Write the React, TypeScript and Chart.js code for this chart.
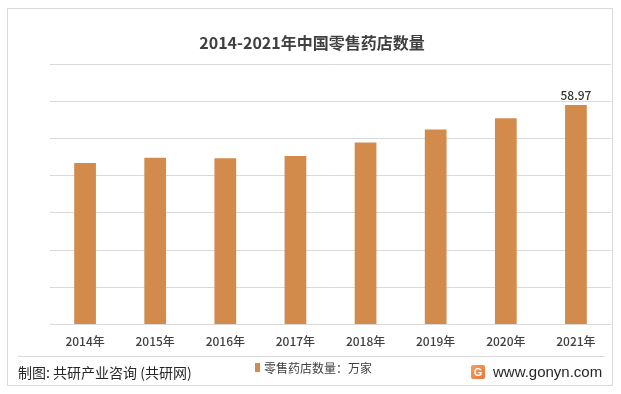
import React, { useEffect, useRef } from "react";
import { Chart, registerables } from "chart.js";

Chart.register(...registerables);

const categories = ["2014年", "2015年", "2016年", "2017年", "2018年", "2019年", "2020年", "2021年"];
const storeCounts = [43.4, 44.8, 44.7, 45.3, 48.9, 52.4, 55.4, 58.97];
const labeledIndexes = [7];
const seriesName = "零售药店数量：万家";
const titleText = "2014-2021年中国零售药店数量";
const sourceText = "制图: 共研产业咨询 (共研网)";
const siteText = "www.gonyn.com";

const BAR_COLOR = "#D38B4C";
const FONT = "'Noto Sans CJK SC', 'Noto Sans', sans-serif";

const valueLabelPlugin = {
  id: "valueLabels",
  afterDatasetsDraw(chart: any) {
    const ctx = chart.ctx;
    const meta = chart.getDatasetMeta(0);
    ctx.save();
    ctx.fillStyle = "#333333";
    ctx.font = `500 12px ${FONT}`;
    ctx.textAlign = "center";
    ctx.textBaseline = "bottom";
    labeledIndexes.forEach((i) => {
      const el = meta.data[i];
      if (!el) return;
      ctx.fillText(storeCounts[i].toFixed(2), el.x, el.y - 4);
    });
    ctx.restore();
  },
};

export default function App() {
  const ref = useRef<HTMLCanvasElement | null>(null);

  useEffect(() => {
    if (!ref.current) return;
    const chart = new Chart(ref.current, {
      type: "bar",
      data: {
        labels: categories,
        datasets: [
          {
            label: seriesName,
            data: storeCounts,
            backgroundColor: BAR_COLOR,
            categoryPercentage: 1,
            barPercentage: 0.31,
          },
        ],
      },
      options: {
        responsive: false,
        animation: false,
        devicePixelRatio: 1,
        layout: { padding: { left: 50, right: 10, top: 64, bottom: 35 } },
        plugins: {
          legend: { display: false },
          tooltip: { enabled: false },
          title: { display: false },
        },
        scales: {
          x: {
            grid: { display: false, drawTicks: false },
            border: { display: false },
            ticks: {
              color: "#404040",
              font: { family: FONT, size: 12, weight: "500" },
              padding: 10,
              maxRotation: 0,
            },
          },
          y: {
            min: 0,
            max: 70,
            ticks: { display: false, stepSize: 10 },
            grid: { color: "#d9d9d9", drawTicks: false },
            border: { display: false },
          },
        },
      },
      plugins: [valueLabelPlugin],
    });
    return () => chart.destroy();
  }, []);

  return (
    <div style={{ position: "absolute", left: 0, top: 0, width: 621, height: 394, background: "#fff", fontFamily: FONT }}>
      <div style={{ position: "absolute", left: 7, top: 8, width: 606, height: 378, border: "1px solid #d9d9d9", boxSizing: "border-box" }} />
      <canvas ref={ref} width={621} height={394} style={{ position: "absolute", left: 0, top: 0 }} />
      <div style={{ position: "absolute", left: 0, top: 31, width: 624, textAlign: "center", fontSize: 16, fontWeight: "bold", lineHeight: "22px", color: "#404040", whiteSpace: "nowrap" }}>{titleText}</div>
      <div style={{ position: "absolute", left: 18, top: 356, width: 587, height: 1, background: "#d9d9d9" }} />
      <div style={{ position: "absolute", left: 255, top: 363, width: 5, height: 9, background: BAR_COLOR }} />
      <div style={{ position: "absolute", left: 264, top: 359, fontSize: 12, lineHeight: "18px", color: "#404040", whiteSpace: "nowrap" }}>{seriesName}</div>
      <div style={{ position: "absolute", left: 18, top: 362, fontSize: 14, lineHeight: "20px", color: "#262626", whiteSpace: "nowrap" }}>{sourceText}</div>
      <div style={{ position: "absolute", left: 471, top: 365, width: 14, height: 14, borderRadius: 2, background: "linear-gradient(135deg,#f6a25a,#e8743b)", color: "#fff", fontSize: 11, fontWeight: "bold", lineHeight: "14px", textAlign: "center", fontFamily: "'Liberation Sans', sans-serif" }}>G</div>
      <div style={{ position: "absolute", left: 493, top: 362, fontSize: 15, lineHeight: "20px", color: "#262626", whiteSpace: "nowrap", fontFamily: "'Liberation Sans', sans-serif" }}>{siteText}</div>
    </div>
  );
}
